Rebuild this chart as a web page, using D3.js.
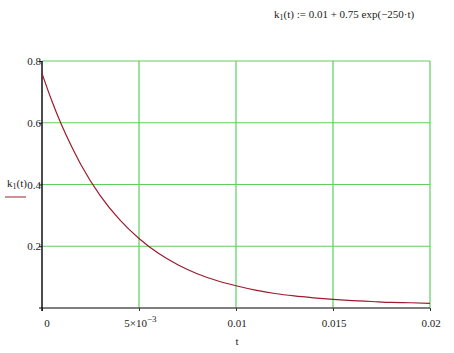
<!DOCTYPE html>
<html>
<head>
<meta charset="utf-8">
<script src="https://cdn.jsdelivr.net/npm/d3@7"></script>
<style>
  body { margin: 0; background: #fff; }
  text { font-family: "Liberation Serif", "DejaVu Serif", serif; fill: #222; }
</style>
</head>
<body>
<div id="chart"></div>
<script>
// values
const tValues = [0, 0.0005, 0.001, 0.0015, 0.002, 0.003, 0.004, 0.005, 0.006, 0.007, 0.008, 0.009, 0.010,
  0.011, 0.012, 0.013, 0.014, 0.015, 0.016, 0.017, 0.018, 0.019, 0.020]
const kValues = [0.76, 0.672, 0.594, 0.526, 0.465, 0.364, 0.286, 0.225, 0.177, 0.140, 0.111, 0.089, 0.072,
  0.058, 0.047, 0.039, 0.033, 0.028, 0.024, 0.021, 0.018, 0.017, 0.015]
const xTicks = [0, 0.005, 0.01, 0.015, 0.02]
const xTickLabels = ["0", "5×10", "0.01", "0.015", "0.02"]
const yTicks = [0.2, 0.4, 0.6, 0.8]
const yTickLabels = ["0.2", "0.4", "0.6", "0.8"]

const w = 454
const h = 353
const pLeft = 42, pRight = 430, pTop = 61, pBottom = 308

const svg = d3.select("#chart")
  .append("svg")
  .attr("width", w)
  .attr("height", h)

const x = d3.scaleLinear().domain([0, 0.02]).range([pLeft, pRight])
const y = d3.scaleLinear().domain([0, 0.8]).range([pBottom, pTop])

const green = "#5fcf5f"

// grid
svg.append("g")
  .selectAll("line")
  .data(yTicks)
  .enter()
  .append("line")
  .attr("x1", pLeft).attr("x2", pRight)
  .attr("y1", d => y(d)).attr("y2", d => y(d))
  .attr("stroke", green).attr("stroke-width", 1.2)

svg.append("g")
  .selectAll("line")
  .data(xTicks.slice(1))
  .enter()
  .append("line")
  .attr("x1", d => x(d)).attr("x2", d => x(d))
  .attr("y1", pTop).attr("y2", pBottom)
  .attr("stroke", green).attr("stroke-width", 1.2)

// axes
const xAxis = d3.axisBottom(x).tickValues(xTicks).tickSize(3).tickFormat("")
const yAxis = d3.axisLeft(y).tickValues(yTicks).tickSize(3).tickFormat("")

svg.append("g")
  .attr("transform", `translate(0, ${pBottom})`)
  .call(xAxis)
  .call(g => g.select(".domain").attr("stroke", "#555").attr("stroke-width", 1.5).attr("d", `M${pLeft - 3},0H${pRight}`))
  .call(g => g.selectAll(".tick line").attr("stroke", "#333"))

svg.append("g")
  .attr("transform", `translate(${pLeft}, 0)`)
  .call(yAxis)
  .call(g => g.select(".domain").attr("stroke", "#111").attr("stroke-width", 1.5).attr("d", `M0,${pTop}V${pBottom + 3}`))
  .call(g => g.selectAll(".tick line").attr("stroke", "#111"))

// tick labels
svg.append("g")
  .selectAll("text")
  .data(xTicks)
  .enter()
  .append("text")
  .attr("x", (d, i) => i === 0 ? x(d) + 5 : i === 1 ? x(d) + 8 : x(d) + 1)
  .attr("y", 327)
  .attr("text-anchor", (d, i) => i === 1 ? "end" : "middle")
  .attr("font-size", 11)
  .text((d, i) => xTickLabels[i])

svg.append("text")
  .attr("x", x(0.005) + 8)
  .attr("y", 322)
  .attr("font-size", 9)
  .text("−3")

svg.append("g")
  .selectAll("text")
  .data(yTicks)
  .enter()
  .append("text")
  .attr("x", pLeft - 1)
  .attr("y", d => y(d) + 4)
  .attr("text-anchor", "end")
  .attr("font-size", 11)
  .text((d, i) => yTickLabels[i])

// axis titles
svg.append("text")
  .attr("x", 237).attr("y", 345)
  .attr("text-anchor", "middle")
  .attr("font-size", 11)
  .text("t")

const yl = svg.append("text").attr("x", 7).attr("y", 187).attr("font-size", 11)
yl.append("tspan").text("k")
yl.append("tspan").attr("font-size", 8).attr("dy", 2).text("1")
yl.append("tspan").attr("dy", -2).text("(t)")

svg.append("line")
  .attr("x1", 5).attr("x2", 26)
  .attr("y1", 197).attr("y2", 197)
  .attr("stroke", "#a0202a").attr("stroke-width", 1)

const title = svg.append("text").attr("x", 274).attr("y", 18).attr("font-size", 11)
title.append("tspan").text("k")
title.append("tspan").attr("font-size", 8).attr("dy", 2).text("1")
title.append("tspan").attr("dy", -2).text("(t) := 0.01 + 0.75 exp(−250·t)")

// curve
const line = d3.line()
  .x((d, i) => x(tValues[i]))
  .y(d => y(d))
  .curve(d3.curveMonotoneX)

svg.append("path")
  .datum(kValues)
  .attr("d", line)
  .attr("fill", "none")
  .attr("stroke", "#9c1c2c")
  .attr("stroke-width", 1.2)
</script>
</body>
</html>
